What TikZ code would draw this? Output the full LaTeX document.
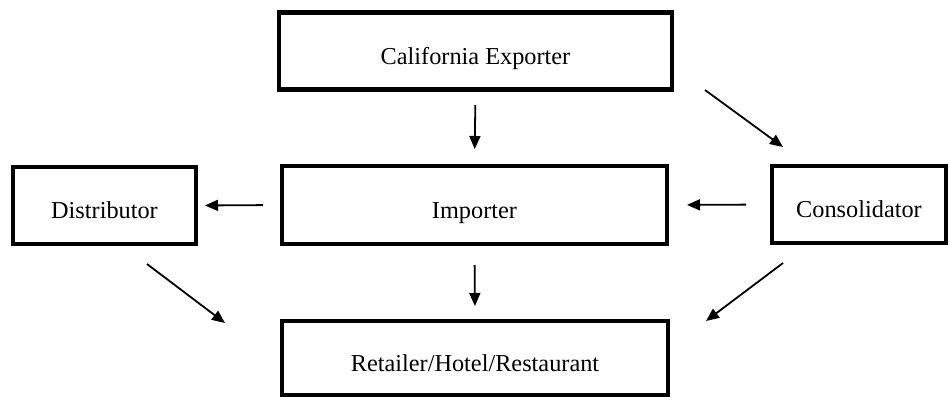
\documentclass[tikz,border=0pt]{standalone}
\usepackage{fontspec}
\setmainfont{Liberation Serif}
\usetikzlibrary{arrows.meta}
\tikzset{
  box/.style={draw=black, line width=4.5pt, rectangle, inner sep=0pt,
    font=\fontsize{24.3}{29}\selectfont, text height=26pt, text depth=0pt},
  flow/.style={draw=black, line width=1.8pt, -{Triangle[length=13pt,width=11pt]}}
}
\begin{document}
\begin{tikzpicture}[x=1pt,y=-1pt]
\useasboundingbox (0,0) rectangle (950,399);
\fill[white] (0,0) rectangle (950,399);
\node[box, minimum width=393pt, minimum height=77pt] (exp) at (475.5,51) {California Exporter};
\node[box, minimum width=385pt, minimum height=78pt] (imp) at (474.5,205) {Importer};
\node[box, minimum width=183pt, minimum height=77pt] (dist) at (104.5,205.5) {Distributor};
\node[box, minimum width=174pt, minimum height=77pt] (cons) at (859,204.5) {Consolidator};
\node[box, minimum width=386pt, minimum height=74pt] (ret) at (475,358) {Retailer/Hotel/Restaurant};
% vertical and horizontal arrows
\draw[flow, shorten <=13.25pt, shorten >=14.75pt] (exp.south) -- (imp.north);
\draw[flow, shorten <=18.75pt, shorten >=12.75pt] (imp.south) -- (ret.north);
\draw[flow, shorten <=16.75pt, shorten >=6.75pt] (imp.west) -- (dist.east);
\draw[flow, shorten <=23.75pt, shorten >=17.75pt] (cons.west) -- (imp.east);
% diagonal arrows
\coordinate (ec1) at (705,90);
\coordinate (ec2) at (783,147);
\coordinate (dr1) at (147,264);
\coordinate (dr2) at (225,323);
\coordinate (cr1) at (783,263);
\coordinate (cr2) at (706,321);
\draw[flow] (ec1) -- (ec2);
\draw[flow] (dr1) -- (dr2);
\draw[flow] (cr1) -- (cr2);
\end{tikzpicture}
\end{document}
